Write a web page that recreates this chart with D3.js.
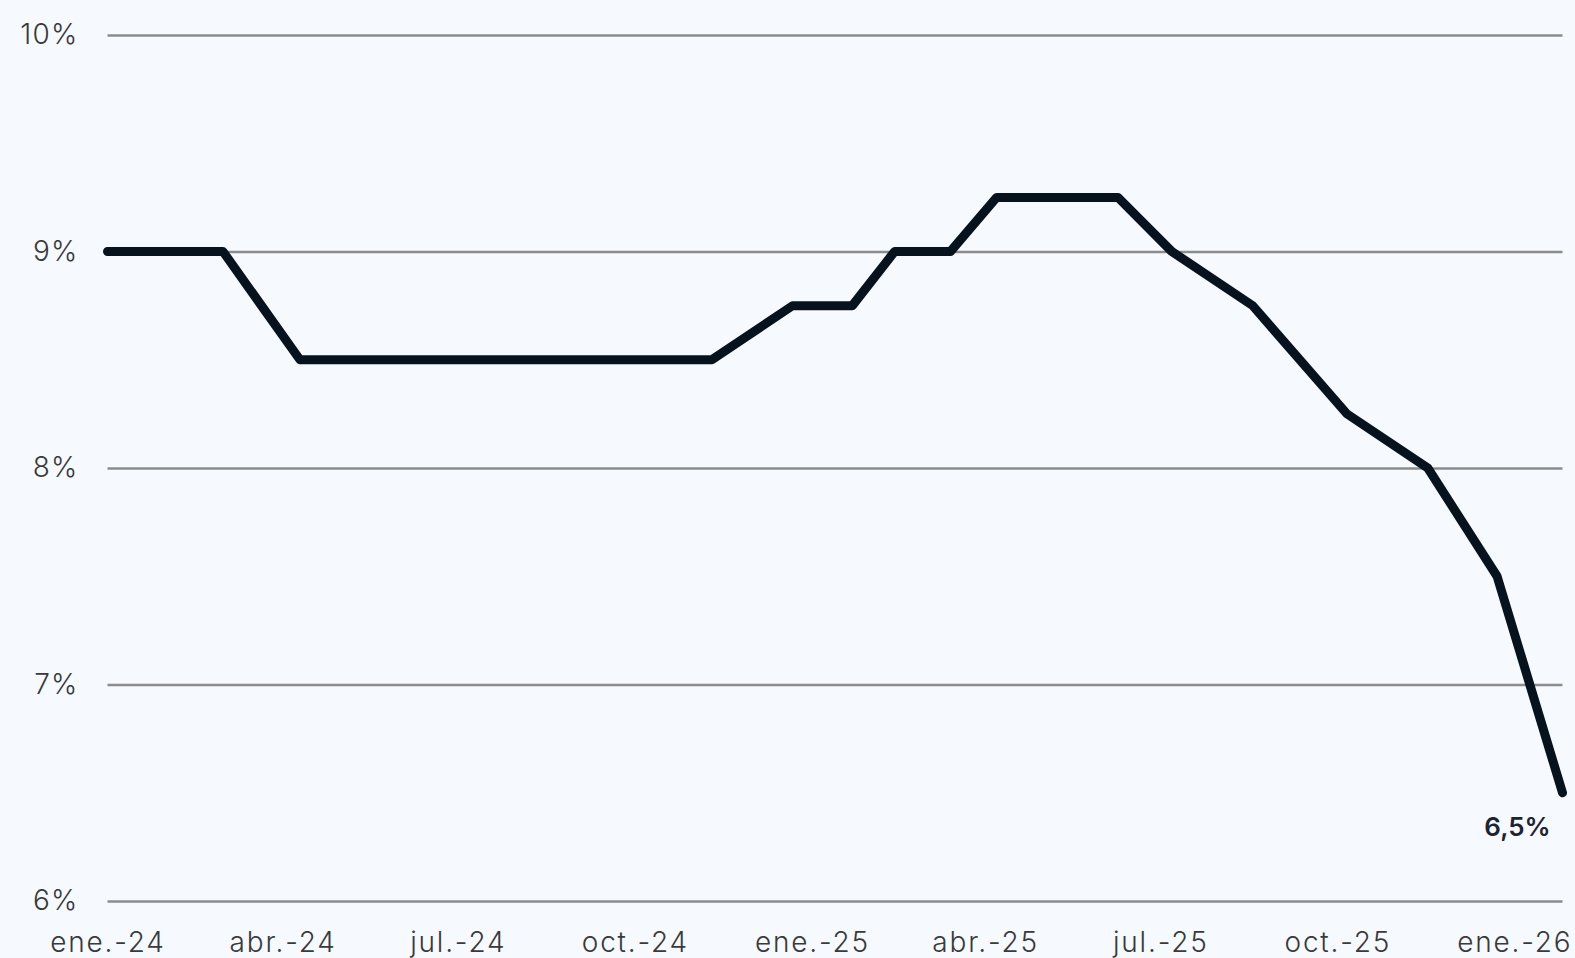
<!DOCTYPE html>
<html>
<head>
<meta charset="utf-8">
<script src="https://cdn.jsdelivr.net/npm/d3@7"></script>
<style>
  html, body { margin: 0; padding: 0; background: #f6f9fd; }
  svg { display: block; }
</style>
</head>
<body>
<svg id="chart" width="1575" height="958"></svg>
<script>
// ---- data ----
const dates = ["2024-01-01","2024-03-01","2024-04-10","2024-11-10","2024-12-22","2025-01-22",
  "2025-02-13","2025-03-14","2025-04-07","2025-06-09","2025-07-07","2025-08-18",
  "2025-10-06","2025-11-17","2025-12-23","2026-01-26"];
const rates = [9.0, 9.0, 8.5, 8.5, 8.75, 8.75, 9.0, 9.0, 9.25, 9.25, 9.0, 8.75, 8.25, 8.0, 7.5, 6.5];
const yTicks = [6, 7, 8, 9, 10];
const xTickDates = ["2024-01-01","2024-04-01","2024-07-01","2024-10-01","2025-01-01","2025-04-01","2025-07-01","2025-10-01","2026-01-01"];
const xTickLabels = ["ene.-24","abr.-24","jul.-24","oct.-24","ene.-25","abr.-25","jul.-25","oct.-25","ene.-26"];
const lastLabel = "6,5%";

(function () {
const parse = d3.timeParse("%Y-%m-%d");
const data = dates.map((d, i) => ({ date: parse(d), value: rates[i] }));

const svg = d3.select("#chart");
const W = 1575, H = 958;
const mLeft = 107.5, mRight = 1562.5, mTop = 35, mBottom = 901;

svg.append("rect").attr("width", W).attr("height", H).attr("fill", "#f6f9fd");

const x = d3.scaleTime()
  .domain([parse("2024-01-01"), parse("2026-01-26")])
  .range([mLeft, mRight]);
const y = d3.scaleLinear().domain([6, 10]).range([mBottom, mTop]);

const font = "Inter, 'Noto Sans', sans-serif";

// gridlines + y labels
const yAxis = d3.axisLeft(y).tickValues(yTicks).tickSize(-(mRight - mLeft)).tickFormat(d => d + "%").tickPadding(29);
const gy = svg.append("g").attr("transform", `translate(${mLeft},0)`).call(yAxis);
gy.select(".domain").remove();
gy.selectAll(".tick line").attr("stroke", "#8c8c8c").attr("stroke-width", 2.6);
gy.selectAll(".tick text")
  .attr("font-family", font).attr("font-weight", 300).attr("font-size", 28)
  .attr("letter-spacing", 1.2)
  .attr("fill", "#3a3a3a");

// x axis labels
const xLabelMap = new Map(xTickDates.map((d, i) => [+parse(d), xTickLabels[i]]));
const xAxis = d3.axisBottom(x).tickValues(xTickDates.map(parse)).tickSize(0)
  .tickFormat(d => xLabelMap.get(+d)).tickPadding(0);
const gx = svg.append("g").attr("transform", `translate(0,${mBottom})`).call(xAxis);
gx.select(".domain").remove();
gx.selectAll(".tick text")
  .attr("font-family", font).attr("font-weight", 300).attr("font-size", 28)
  .attr("letter-spacing", 1.8)
  .attr("fill", "#3a3a3a").attr("dy", null).attr("y", 43).attr("dominant-baseline", "middle");

// line
const line = d3.line().x(d => x(d.date)).y(d => y(d.value));
svg.append("path").datum(data)
  .attr("d", line)
  .attr("fill", "none")
  .attr("stroke", "#06131e")
  .attr("stroke-width", 9)
  .attr("stroke-linejoin", "round")
  .attr("stroke-linecap", "round");

// last value label
const last = data[data.length - 1];
svg.append("text")
  .attr("x", x(last.date) - 45)
  .attr("y", y(last.value) + 36)
  .attr("text-anchor", "middle")
  .attr("dominant-baseline", "middle")
  .attr("font-family", font).attr("font-weight", 600).attr("font-size", 26)
  .attr("fill", "#1c2430")
  .text(lastLabel);
})();
</script>
</body>
</html>
